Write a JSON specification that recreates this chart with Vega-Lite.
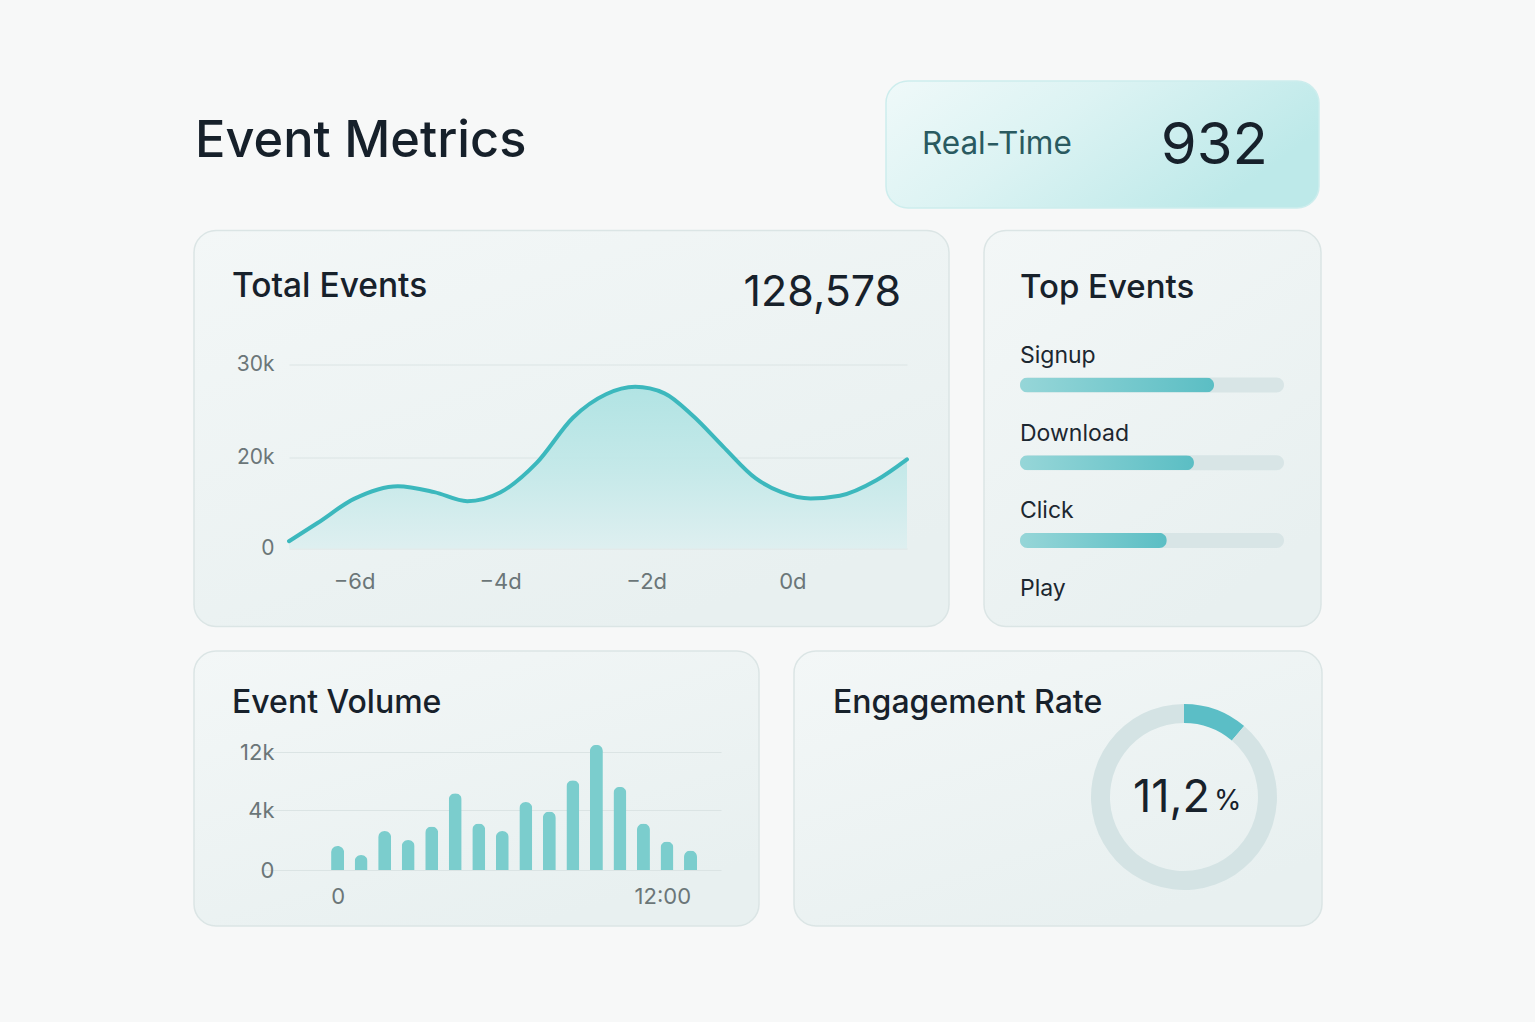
{
  "$schema": "https://vega.github.io/schema/vega-lite/v6.json",
  "background": "#f7f8f8",
  "padding": {"left": 193, "top": 80, "right": 212, "bottom": 95},
  "config": {
    "font": "Inter",
    "view": {
      "fill": {"gradient": "linear", "x1": 0, "y1": 0, "x2": 0.6, "y2": 1, "stops": [{"offset": 0, "color": "#f3f7f7"}, {"offset": 1, "color": "#e8f0f0"}]},
      "stroke": "#dbe5e5",
      "strokeWidth": 1.5,
      "cornerRadius": 22
    },
    "title": {"anchor": "start", "frame": "group", "baseline": "alphabetic", "color": "#17212b", "fontWeight": 500, "fontSize": 33.5, "font": "Inter"},
    "axis": {"domain": false, "ticks": false, "tickSize": 0, "labelPadding": 0, "labelColor": "#6b7678", "labelFont": "Inter", "labelFontSize": 21, "gridColor": "#dbe4e4", "gridWidth": 1},
    "text": {"font": "Inter"}
  },
  "datasets": {
    "daily": [
      {"day": -6.89, "events": 1600},
      {"day": -6.5, "events": 5600},
      {"day": -6.0, "events": 10900},
      {"day": -5.4, "events": 13700},
      {"day": -4.9, "events": 12400},
      {"day": -4.45, "events": 10400},
      {"day": -4.0, "events": 12300},
      {"day": -3.5, "events": 18800},
      {"day": -3.0, "events": 24300},
      {"day": -2.55, "events": 26800},
      {"day": -2.15, "events": 27600},
      {"day": -1.75, "events": 26900},
      {"day": -1.35, "events": 24400},
      {"day": -0.95, "events": 21200},
      {"day": -0.5, "events": 15400},
      {"day": -0.15, "events": 12400},
      {"day": 0.25, "events": 11000},
      {"day": 0.65, "events": 11600},
      {"day": 1.15, "events": 15000},
      {"day": 1.57, "events": 19600}
    ],
    "volume": [
      {"minute": 0, "events": 1600},
      {"minute": 48, "events": 1000},
      {"minute": 96, "events": 2600},
      {"minute": 144, "events": 2000},
      {"minute": 192, "events": 2900},
      {"minute": 240, "events": 6300},
      {"minute": 288, "events": 3100},
      {"minute": 336, "events": 2600},
      {"minute": 384, "events": 5100},
      {"minute": 432, "events": 3900},
      {"minute": 480, "events": 8100},
      {"minute": 528, "events": 13000},
      {"minute": 576, "events": 7200},
      {"minute": 624, "events": 3100},
      {"minute": 672, "events": 1900},
      {"minute": 720, "events": 1300}
    ],
    "topEvents": [
      {"event": "Signup", "share": 73.5},
      {"event": "Download", "share": 65.9},
      {"event": "Click", "share": 55.6},
      {"event": "Play", "share": null}
    ],
    "engagement": [
      {"part": "engaged", "share": 11.2},
      {"part": "rest", "share": 88.8}
    ]
  },
  "spacing": 20.5,
  "bounds": "full",
  "vconcat": [
    {
      "spacing": 35,
      "bounds": "flush",
      "hconcat": [
        {
          "width": 657,
          "height": 127,
          "view": {"fill": null, "stroke": null},
          "title": {"text": "Event Metrics", "fontSize": 50.5, "offset": -86, "dx": 1, "color": "#16202a"},
          "data": {"values": []},
          "mark": "text"
        },
        {
          "width": 433,
          "height": 127,
          "view": {
            "fill": {"gradient": "linear", "x1": 0, "y1": 0, "x2": 1, "y2": 0.4, "stops": [{"offset": 0, "color": "#eff9f9"}, {"offset": 0.45, "color": "#dcf3f3"}, {"offset": 1, "color": "#bde9e9"}]},
            "stroke": "#cdeded"
          },
          "data": {"values": [{"metric": "Real-Time", "count": 932}]},
          "layer": [
            {
              "mark": {"type": "text", "align": "left", "baseline": "middle", "fontSize": 31.5, "color": "#2a5a60"},
              "encoding": {
                "x": {"datum": 0.083, "type": "quantitative", "scale": {"domain": [0, 1], "range": [0, 433], "nice": false, "zero": false}, "axis": null},
                "text": {"field": "metric", "type": "nominal"}
              }
            },
            {
              "mark": {"type": "text", "align": "right", "baseline": "middle", "fontSize": 58, "color": "#17212b", "dy": 2},
              "encoding": {
                "x": {"datum": 0.882, "type": "quantitative", "axis": null},
                "text": {"field": "count", "type": "quantitative"}
              }
            }
          ]
        }
      ]
    },
    {
      "spacing": 22.5,
      "bounds": "full",
      "vconcat": [
        {
          "spacing": 35,
          "bounds": "flush",
          "hconcat": [
            {
              "width": 755,
              "height": 396,
              "title": {"text": "Total Events", "offset": -74, "dx": 38},
              "layer": [
                {
                  "data": {"name": "daily"},
                  "mark": {
                    "type": "area",
                    "interpolate": "monotone",
                    "fillOpacity": 0.92,
                    "fill": {"gradient": "linear", "x1": 0, "y1": 0, "x2": 0, "y2": 1, "stops": [{"offset": 0, "color": "#ace2e2"}, {"offset": 0.5, "color": "#c1e8e8"}, {"offset": 1, "color": "#ddeff0"}]}
                  },
                  "encoding": {
                    "x": {
                      "field": "day",
                      "type": "quantitative",
                      "scale": {"domain": [-6.89, 1.57], "range": [95, 713], "nice": false, "zero": false},
                      "axis": {"values": [-6, -4, -2, 0], "labelExpr": "format(datum.value, 'd') + 'd'", "offset": -45, "labelBaseline": "middle", "labelFontSize": 22, "grid": false, "title": null}
                    },
                    "y": {
                      "field": "events",
                      "type": "quantitative",
                      "scale": {"domain": [0, 20000, 30000], "range": [318, 227, 134], "nice": false, "zero": false},
                      "axis": {"values": [0, 20000, 30000], "labelExpr": "datum.value === 0 ? '0' : format(datum.value / 1000, 'd') + 'k'", "offset": -80, "grid": true, "title": null}
                    }
                  }
                },
                {
                  "data": {"name": "daily"},
                  "mark": {"type": "line", "interpolate": "monotone", "color": "#3cb8bd", "strokeWidth": 4, "strokeCap": "round"},
                  "encoding": {
                    "x": {"field": "day", "type": "quantitative"},
                    "y": {"field": "events", "type": "quantitative"}
                  }
                },
                {
                  "data": {"values": [{"total": 128578}]},
                  "mark": {"type": "text", "align": "right", "baseline": "alphabetic", "fontSize": 43, "color": "#17212b"},
                  "encoding": {
                    "x": {"datum": 1.49, "type": "quantitative"},
                    "y": {"datum": 36300, "type": "quantitative"},
                    "text": {"field": "total", "type": "quantitative", "format": ","}
                  }
                }
              ]
            },
            {
              "width": 337,
              "height": 396,
              "title": {"text": "Top Events", "offset": -74, "dx": 36, "fontSize": 33},
              "data": {"name": "topEvents"},
              "encoding": {
                "y": {
                  "field": "event",
                  "type": "nominal",
                  "scale": {"type": "band", "domain": ["Signup", "Download", "Click", "Play"], "range": [115.5, 426.5], "paddingInner": 0, "paddingOuter": 0},
                  "axis": null
                }
              },
              "layer": [
                {
                  "transform": [{"filter": "isValid(datum.share)"}],
                  "mark": {"type": "bar", "height": 15, "cornerRadius": 7.5, "color": "#d8e5e6"},
                  "encoding": {
                    "x": {"datum": 100, "type": "quantitative", "scale": {"domain": [0, 100], "range": [36, 300], "nice": false, "zero": false}, "axis": null}
                  }
                },
                {
                  "transform": [{"filter": "isValid(datum.share)"}],
                  "mark": {
                    "type": "bar",
                    "height": 15,
                    "cornerRadius": 7.5,
                    "fill": {"gradient": "linear", "x1": 0, "y1": 0, "x2": 1, "y2": 0, "stops": [{"offset": 0, "color": "#96d6d8"}, {"offset": 1, "color": "#5bbec4"}]}
                  },
                  "encoding": {
                    "x": {"field": "share", "type": "quantitative"}
                  }
                },
                {
                  "mark": {"type": "text", "align": "left", "baseline": "alphabetic", "dy": -22, "fontSize": 23, "color": "#1c2730"},
                  "encoding": {
                    "x": {"datum": 0, "type": "quantitative"},
                    "text": {"field": "event", "type": "nominal"}
                  }
                }
              ]
            }
          ]
        },
        {
          "spacing": 35,
          "bounds": "flush",
          "hconcat": [
            {
              "width": 565,
              "height": 275,
              "title": {"text": "Event Volume", "offset": -69, "dx": 38, "fontSize": 32},
              "data": {"name": "volume"},
              "mark": {"type": "bar", "width": 13, "cornerRadiusEnd": 6.5, "color": "#7bcdcd"},
              "encoding": {
                "x": {
                  "field": "minute",
                  "type": "quantitative",
                  "scale": {"domain": [-142, 772], "range": [69, 527], "nice": false, "zero": false},
                  "axis": {
                    "values": [0, 720],
                    "labelExpr": "datum.value === 0 ? '0' : format(datum.value / 60, 'd') + ':00'",
                    "labelAlign": {"condition": {"test": "datum.value === 720", "value": "right"}, "value": "center"},
                    "offset": -30,
                    "labelBaseline": "middle",
                    "labelFontSize": 22,
                    "grid": false,
                    "title": null
                  }
                },
                "y": {
                  "field": "events",
                  "type": "quantitative",
                  "scale": {"domain": [0, 4000, 12000], "range": [219, 159, 101], "nice": false, "zero": false},
                  "axis": {"values": [0, 4000, 12000], "labelExpr": "datum.value === 0 ? '0' : format(datum.value / 1000, 'd') + 'k'", "offset": -80, "labelFontSize": 22, "grid": true, "title": null}
                }
              }
            },
            {
              "width": 528,
              "height": 275,
              "title": {"text": "Engagement Rate", "offset": -69, "dx": 39, "fontSize": 32},
              "data": {"name": "engagement"},
              "layer": [
                {
                  "mark": {"type": "arc", "outerRadius": 93, "innerRadius": 74},
                  "encoding": {
                    "x": {"datum": 0.7386, "type": "quantitative", "scale": {"domain": [0, 1], "range": [0, 528], "nice": false, "zero": false}, "axis": null},
                    "y": {"datum": 0.5309, "type": "quantitative", "scale": {"domain": [0, 1], "range": [0, 275], "nice": false, "zero": false}, "axis": null},
                    "theta": {"field": "share", "type": "quantitative", "stack": true},
                    "color": {"field": "part", "type": "nominal", "scale": {"domain": ["engaged", "rest"], "range": ["#5bbec6", "#d4e3e4"]}, "legend": null}
                  }
                },
                {
                  "transform": [
                    {"filter": "datum.part === 'engaged'"},
                    {"calculate": "replace(format(datum.share, '.1f'), '.', ',')", "as": "label"}
                  ],
                  "mark": {"type": "text", "align": "right", "baseline": "alphabetic", "fontSize": 45, "color": "#17212b"},
                  "encoding": {
                    "x": {"datum": 0.7879, "type": "quantitative"},
                    "y": {"datum": 0.5855, "type": "quantitative"},
                    "text": {"field": "label", "type": "nominal"}
                  }
                },
                {
                  "transform": [{"filter": "datum.part === 'engaged'"}],
                  "mark": {"type": "text", "align": "left", "baseline": "alphabetic", "fontSize": 28, "color": "#17212b", "text": "%"},
                  "encoding": {
                    "x": {"datum": 0.7955, "type": "quantitative"},
                    "y": {"datum": 0.578, "type": "quantitative"}
                  }
                }
              ]
            }
          ]
        }
      ]
    }
  ]
}
